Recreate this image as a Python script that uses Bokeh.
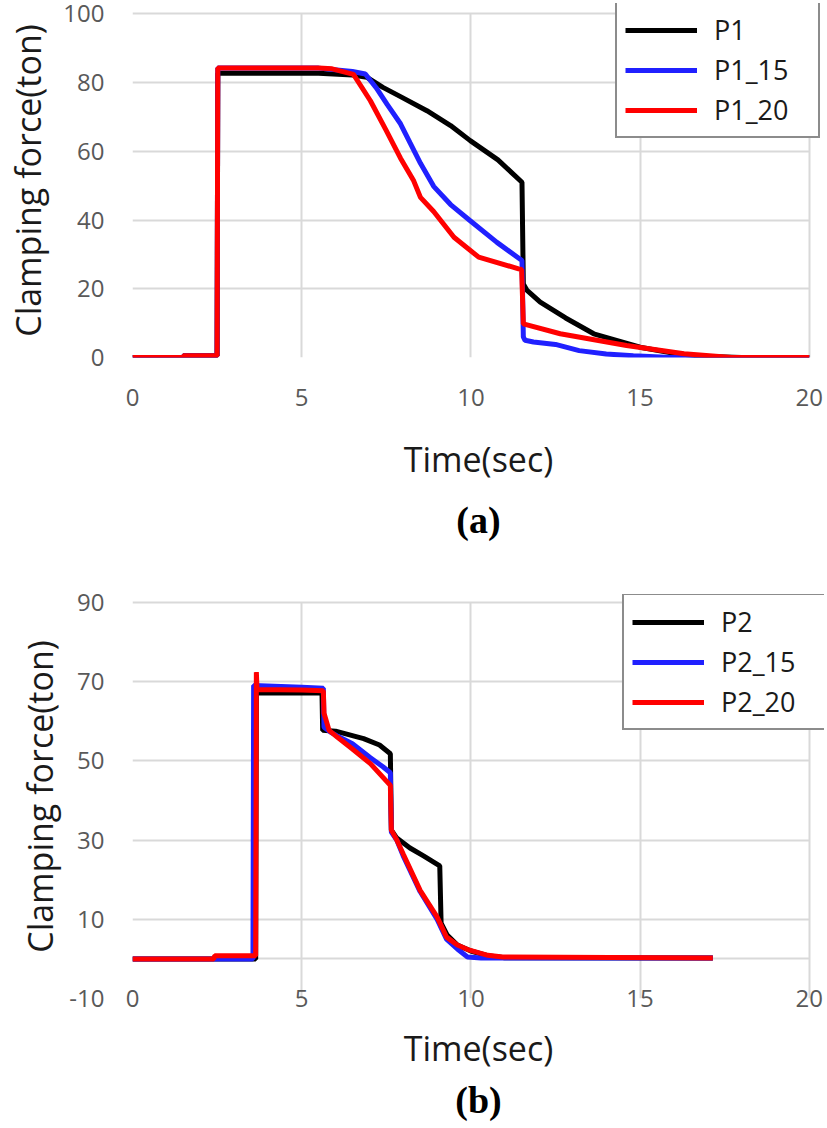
from bokeh.plotting import figure
from bokeh.layouts import column
from bokeh.models import FixedTicker, Legend, LegendItem, Title, Grid, Range1d
from bokeh.embed import file_html
from bokeh.resources import INLINE

# ---------------- data (a) ----------------
p1_t = [0, 1.5, 1.5, 2.5, 2.52, 5.5, 6.5, 6.93, 7.4, 7.92, 8.7, 9.4, 9.98, 10.8, 11.51,
        11.55, 11.66, 12.05, 12.8, 13.63, 15.0, 16.0, 16.8, 18.0, 20]
p1_v = [0, 0, 0.5, 0.5, 82.7, 82.7, 82.2, 81.5, 78.6, 75.9, 71.8, 67.5, 63.1, 57.5, 51.0,
        21.4, 19.5, 16.1, 11.5, 6.9, 3.0, 1.2, 0.4, 0, 0]

p1_15_t = [0, 1.5, 1.5, 2.5, 2.52, 5.5, 6.5, 6.88, 7.2, 7.52, 7.92, 8.2, 8.51, 8.9, 9.4,
           9.98, 10.77, 11.51, 11.55, 11.6, 11.85, 12.5, 13.2, 14.0, 14.8, 15.9, 20]
p1_15_v = [0, 0, 0.5, 0.5, 84.2, 84.2, 83.2, 82.5, 78.5, 73.7, 68.0, 62.5, 56.5, 49.8, 44.5,
           39.8, 33.5, 28.2, 6.0, 5.0, 4.5, 3.8, 2.0, 1.0, 0.5, 0, 0]

p1_20_t = [0, 1.5, 1.5, 2.5, 2.52, 5.5, 5.9, 6.53, 7.03, 7.5, 7.92, 8.31, 8.51, 8.9, 9.5,
           10.23, 11.41, 11.5, 11.55, 12.64, 14.6, 16.3, 17.7, 20]
p1_20_v = [0, 0, 0.5, 0.5, 84.2, 84.2, 84.0, 82.4, 74.7, 66.0, 58.0, 51.4, 46.6, 42.5, 35.0,
           29.2, 25.8, 25.6, 9.8, 6.9, 3.5, 1.1, 0, 0]

# ---------------- data (b) ----------------
p2_t = [0, 3.64, 3.66, 5.6, 5.62, 6.0, 6.83, 7.3, 7.62, 7.65, 7.81, 8.2, 8.6, 9.08, 9.12,
        9.3, 9.6, 10.0, 10.5, 11.0, 17.15]
p2_v = [0, 0, 67.1, 67.1, 57.7, 57.5, 55.6, 54.0, 51.8, 32.5, 30.5, 28.0, 26.0, 23.5, 9.0,
        6.0, 3.5, 2.0, 0.8, 0.3, 0.2]

p2_15_t = [0, 3.56, 3.58, 5.0, 5.64, 5.66, 5.86, 6.05, 6.5, 7.03, 7.4, 7.62, 7.65, 7.81, 8.0,
           8.5, 9.0, 9.28, 9.6, 9.9, 10.3, 17.15]
p2_15_v = [0, 0, 69.0, 68.6, 68.3, 58.5, 57.2, 56.3, 54.3, 50.8, 48.5, 47.0, 32.0, 30.0, 26.0,
           17.0, 10.0, 5.0, 2.5, 0.5, 0.2, 0.2]

p2_20_t = [0, 2.4, 2.43, 3.64, 3.66, 3.68, 5.0, 5.64, 5.66, 5.81, 6.05, 6.5, 7.03, 7.62,
           7.65, 7.81, 8.0, 8.5, 9.0, 9.28, 9.6, 9.96, 10.5, 10.94, 17.15]
p2_20_v = [0, 0, 0.8, 0.8, 72.4, 68.0, 67.9, 67.7, 62.0, 57.7, 56.0, 53.0, 49.3, 43.8,
           32.5, 30.0, 26.5, 17.3, 10.6, 5.5, 3.5, 2.2, 0.9, 0.5, 0.2]

x_ticks = [0, 5, 10, 15, 20]
y_ticks_a = [0, 20, 40, 60, 80, 100]
y_ticks_b = [-10, 10, 30, 50, 70, 90]

FONT = "Open Sans"
GRID = "#d9d9d9"
TICKC = "#595959"


def style(p, yticks, xstandoff, xlab_standoff, ytick_standoff, ylab_standoff):
    p.outline_line_color = None
    p.xaxis.ticker = FixedTicker(ticks=x_ticks)
    p.yaxis.ticker = FixedTicker(ticks=yticks)
    p.yaxis.major_label_overrides = {t: str(t) for t in yticks}
    for ax in (p.xaxis[0], p.yaxis[0]):
        ax.axis_line_color = None
        ax.major_tick_line_color = None
        ax.minor_tick_line_color = None
        ax.major_tick_out = 0
        ax.major_tick_in = 0
        ax.minor_tick_out = 0
        ax.minor_tick_in = 0
        ax.major_label_text_font = FONT
        ax.major_label_text_font_size = "24px"
        ax.major_label_text_color = TICKC
        ax.axis_label_text_font = FONT
        ax.axis_label_text_font_size = "34px"
        ax.axis_label_text_font_style = "normal"
        ax.axis_label_text_color = "#1a1a1a"
    p.xaxis.axis_label = "Time(sec)"
    p.yaxis.axis_label = "Clamping force(ton)"
    p.xaxis.major_label_standoff = xstandoff
    p.xaxis.axis_label_standoff = xlab_standoff
    p.yaxis.major_label_standoff = ytick_standoff
    p.yaxis.axis_label_standoff = ylab_standoff
    for g in (p.xgrid[0], p.ygrid[0]):
        g.grid_line_color = GRID
        g.grid_line_width = 2
    p.xgrid.cross_bounds = (yticks[0], yticks[-1])
    p.ygrid.cross_bounds = (x_ticks[0], x_ticks[-1])


def add_legend(p, items, loc):
    lg = Legend(items=items, location=loc, margin=0, padding=8, spacing=3,
                label_height=20, glyph_height=20, glyph_width=72, label_standoff=17,
                label_width=96, label_text_font=FONT, label_text_font_size="27px",
                label_text_color="#1a1a1a", border_line_color="#1a1a1a",
                border_line_width=2, background_fill_color="white",
                background_fill_alpha=1.0)
    p.add_layout(lg)


# ---------------- figure (a) ----------------
pa = figure(width=827, height=554, x_range=Range1d(0, 20.45), y_range=Range1d(0, 103),
            output_backend="svg", toolbar_location=None,
            min_border_left=132, min_border_right=3, min_border_top=3,
            min_border_bottom=197)
style(pa, y_ticks_a, 31, 27, 28, 9)
ra1 = pa.line(p1_t, p1_v, line_color="black", line_width=5)
ra2 = pa.line(p1_15_t, p1_15_v, line_color="#2020ff", line_width=5)
ra3 = pa.line(p1_20_t, p1_20_v, line_color="#ff0000", line_width=5)
add_legend(pa, [LegendItem(label="P1", renderers=[ra1]),
                LegendItem(label="P1_15", renderers=[ra2]),
                LegendItem(label="P1_20", renderers=[ra3])], (483, 219))
pa.add_layout(Title(text="(a)", align="center", text_font="Liberation Serif",
                    text_font_size="38px", text_font_style="bold",
                    text_color="black", standoff=25), "below")

# ---------------- figure (b) ----------------
pb = figure(width=827, height=574, x_range=Range1d(0, 20.45), y_range=Range1d(-10, 92),
            output_backend="svg", toolbar_location=None,
            min_border_left=127, min_border_right=3, min_border_top=40,
            min_border_bottom=130)
style(pb, y_ticks_b, -9, 15, 28, 3)
pb.add_layout(Grid(dimension=1, ticker=FixedTicker(ticks=[0]), cross_bounds=(0, 20),
                   grid_line_color=GRID, grid_line_width=2))
rb1 = pb.line(p2_t, p2_v, line_color="black", line_width=5)
rb2 = pb.line(p2_15_t, p2_15_v, line_color="#2020ff", line_width=5)
rb3 = pb.line(p2_20_t, p2_20_v, line_color="#ff0000", line_width=5)
add_legend(pb, [LegendItem(label="P2", renderers=[rb1]),
                LegendItem(label="P2_15", renderers=[rb2]),
                LegendItem(label="P2_20", renderers=[rb3])], (490, 268))
pb.add_layout(Title(text="(b)", align="center", text_font="Liberation Serif",
                    text_font_size="38px", text_font_style="bold",
                    text_color="black", standoff=7), "below")

layout = column(pa, pb, spacing=0)
open("out.html", "w").write(file_html(layout, INLINE))
